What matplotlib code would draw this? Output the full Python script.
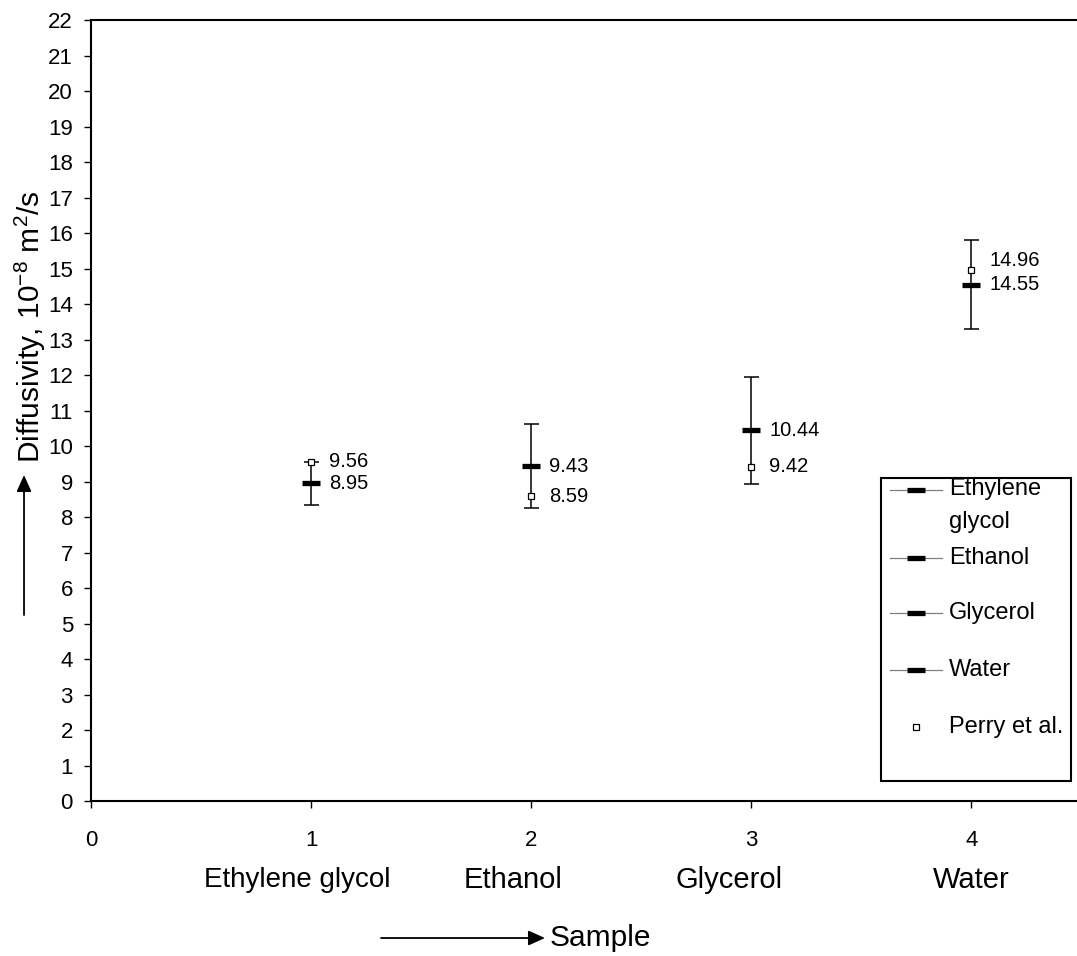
import matplotlib
matplotlib.use("Agg")
import matplotlib.pyplot as plt
from matplotlib.lines import Line2D
from matplotlib.patches import Rectangle, FancyArrowPatch
from matplotlib.transforms import blended_transform_factory, offset_copy

# Measured diffusivities (10^-8 m^2/s) with their spread, and literature values
categories = ["Ethylene glycol", "Ethanol", "Glycerol", "Water"]
legend_labels = ["Ethylene\nglycol", "Ethanol", "Glycerol", "Water", "Perry et al."]
sample_no = [1, 2, 3, 4]
measured = [8.95, 9.43, 10.44, 14.55]
measured_err = [0.60, 1.18, 1.50, 1.25]
perry = [9.56, 8.59, 9.42, 14.96]
x_ticks = [0, 1, 2, 3, 4]
y_ticks = list(range(0, 23))

plt.rcParams["font.family"] = ["Liberation Sans", "DejaVu Sans"]
plt.rcParams["mathtext.fontset"] = "custom"
plt.rcParams["mathtext.rm"] = "Liberation Sans"
plt.rcParams["mathtext.it"] = "Liberation Sans:italic"

fig = plt.figure(figsize=(10.77, 9.56), dpi=100)
ax = fig.add_axes([0.0845, 0.1621, 0.9155, 0.8169])

bar_style = dict(ls="none", marker="_", color="black", ms=13, mew=3.8)
square_style = dict(ls="none", marker="s", ms=5, mfc="white", mec="black", mew=0.9)

# spread of each measurement, then the measured value as a thick dash
for x, y, e in zip(sample_no, measured, measured_err):
    ax.errorbar([x], [y], yerr=[e], fmt="none", ecolor="black",
                elinewidth=1.1, capsize=5.4, capthick=1.1, zorder=2)
    ax.plot([x], [y], zorder=3, **bar_style)

ax.plot(sample_no, perry, zorder=4, **square_style)

# value labels to the right of each point
for x, y in zip(sample_no, measured):
    ax.annotate(f"{y:.2f}", (x, y), xytext=(13, 0), textcoords="offset points",
                ha="left", va="center", fontsize=14.5)
for i, (x, y) in enumerate(zip(sample_no, perry)):
    dy = 7 if i == 3 else 0
    ax.annotate(f"{y:.2f}", (x, y), xytext=(13, dy), textcoords="offset points",
                ha="left", va="center", fontsize=14.5)

ax.set_xlim(0, 4.48)
ax.set_ylim(0, 22)
ax.set_xticks(x_ticks)
ax.set_yticks(y_ticks)
ax.tick_params(axis="y", direction="out", length=5, width=1, pad=8, labelsize=16)
ax.tick_params(axis="x", direction="out", length=5, width=1, pad=16, labelsize=16)
for side in ("left", "bottom", "top"):
    ax.spines[side].set_linewidth(1.5)
ax.spines["right"].set_visible(False)

# sample names under the numeric ticks
trans = blended_transform_factory(ax.transData, ax.transAxes)
name_shift = [-10, -13, -16, 0]
name_size = [20, 21, 21, 21]
for x, name, dx, fs in zip(sample_no, categories, name_shift, name_size):
    ax.text(x, -0.101, name, ha="center", va="center", fontsize=fs,
            transform=offset_copy(trans, fig=fig, x=dx, units="points"))

# legend box
ax.add_patch(Rectangle((0.801, 0.0256), 0.193, 0.388, transform=ax.transAxes,
                       fill=False, ec="black", lw=1.5, clip_on=False, zorder=5))
entry_y = [0.398, 0.311, 0.2407, 0.1677, 0.0947]
for i, (label, yy) in enumerate(zip(legend_labels, entry_y)):
    if i < 4:
        ax.add_line(Line2D([0.810, 0.863], [yy, yy], transform=ax.transAxes,
                           color="#808080", lw=0.9, clip_on=False))
        ax.add_line(Line2D([0.837], [yy], transform=ax.transAxes,
                           clip_on=False, **bar_style))
    else:
        ax.add_line(Line2D([0.837], [yy], transform=ax.transAxes,
                           clip_on=False, **square_style))
    if "\n" in label:
        ax.text(0.870, yy + 0.015, label, transform=ax.transAxes, ha="left",
                va="top", fontsize=17, linespacing=1.6)
    else:
        ax.text(0.870, yy, label, transform=ax.transAxes, ha="left",
                va="center", fontsize=17)

# axis titles with direction arrows
fig.text(0.028, 0.658, "Diffusivity, 10$^{-8}$ m$^{2}$/s", rotation=90,
         ha="center", va="center", fontsize=21.5)
arrow = dict(transform=fig.transFigure,
             arrowstyle="-|>,head_length=10,head_width=4.5", color="black",
             lw=1.3, mutation_scale=1, shrinkA=0, shrinkB=0)
fig.add_artist(FancyArrowPatch((0.0223, 0.3567), (0.0223, 0.5031), **arrow))
fig.add_artist(FancyArrowPatch((0.3538, 0.0188), (0.5060, 0.0188), **arrow))
fig.text(0.5107, 0.0188, "Sample", ha="left", va="center", fontsize=21.5)

fig.savefig("out.png", dpi=100)
